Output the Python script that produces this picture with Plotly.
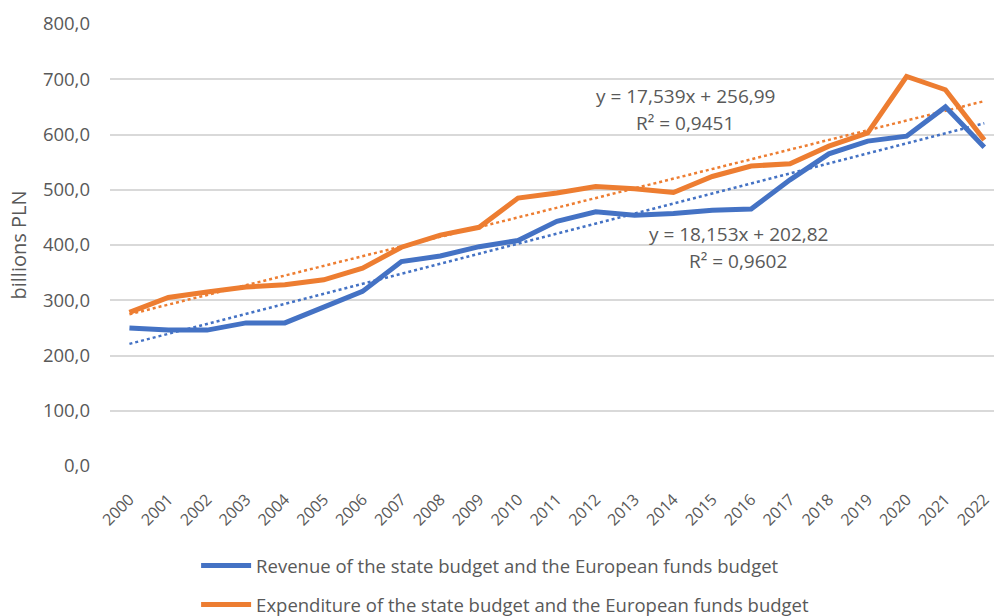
import plotly.graph_objects as go

years = [str(y) for y in range(2000, 2023)]
revenue = [250, 246, 246, 259, 259, 288, 316, 370, 380, 397, 408, 443, 460,
           454, 457, 463, 465, 518, 565, 588, 597, 650, 577]
expenditure = [278, 305, 315, 324, 328, 337, 358, 396, 418, 432, 485, 494, 506,
               502, 495, 524, 543, 547, 579, 603, 705, 681, 590]
# linear trend coefficients (slope, intercept) as printed on the chart
rev_trend = [18.153, 202.82]
exp_trend = [17.539, 256.99]
y_ticks = [0, 100, 200, 300, 400, 500, 600, 700, 800]
y_ticktext = ["0,0", "100,0", "200,0", "300,0", "400,0", "500,0", "600,0", "700,0", "800,0"]

BLUE = "#4472C4"
ORANGE = "#ED7D31"
GREY = "#595959"
FONT = "Open Sans"

idx = list(range(1, len(years) + 1))
rev_fit = [rev_trend[0] * i + rev_trend[1] for i in idx]
exp_fit = [exp_trend[0] * i + exp_trend[1] for i in idx]

fig = go.Figure()
fig.add_trace(go.Scatter(x=years, y=rev_fit, mode="lines",
                         line=dict(color=BLUE, width=2.5, dash="dot"),
                         showlegend=False, hoverinfo="skip"))
fig.add_trace(go.Scatter(x=years, y=exp_fit, mode="lines",
                         line=dict(color=ORANGE, width=2.5, dash="dot"),
                         showlegend=False, hoverinfo="skip"))
fig.add_trace(go.Scatter(x=years, y=revenue, mode="lines",
                         line=dict(color=BLUE, width=5),
                         name="Revenue of the state budget and the European funds budget",
                         legendgroup="a", legendrank=1))
fig.add_trace(go.Scatter(x=years, y=expenditure, mode="lines",
                         line=dict(color=ORANGE, width=5),
                         name="Expenditure of the state budget and the European funds budget",
                         legendgroup="b", legendrank=2))

ann_font = dict(family=FONT, size=19, color=GREY)
fig.add_annotation(x=14.31, y=670, xref="x", yref="y", text="y = 17,539x + 256,99",
                   showarrow=False, font=ann_font)
fig.add_annotation(x=14.31, y=621, xref="x", yref="y", text="R² = 0,9451",
                   showarrow=False, font=ann_font)
fig.add_annotation(x=15.67, y=420, xref="x", yref="y", text="y = 18,153x + 202,82",
                   showarrow=False, font=ann_font)
fig.add_annotation(x=15.67, y=371, xref="x", yref="y", text="R² = 0,9602",
                   showarrow=False, font=ann_font)

fig.update_layout(
    width=994, height=616,
    margin=dict(l=110, r=0, t=24, b=150),
    paper_bgcolor="white", plot_bgcolor="white",
    font=dict(family=FONT, color=GREY, size=18),
    xaxis=dict(type="category", range=[-0.5, 22.25], tickangle=-45,
               showgrid=False, showline=False, ticks="", automargin=False,
               ticklabelstandoff=20,
               tickfont=dict(size=16, color=GREY)),
    yaxis=dict(range=[0, 800], tickvals=y_ticks, ticktext=y_ticktext,
               showgrid=True, gridcolor="#D9D9D9", gridwidth=1.5,
               zeroline=False, showline=False, ticks="", automargin=False,
               ticklabelstandoff=19,
               tickfont=dict(size=18.5, color=GREY),
               title=dict(text="billions PLN", font=dict(size=20, color=GREY), standoff=10)),
    legend=dict(x=0.0974, y=0.112, xref="paper", yref="container",
                xanchor="left", yanchor="top",
                orientation="v", tracegroupgap=12, itemwidth=50,
                font=dict(size=18.5, color=GREY)),
    showlegend=True,
)

fig.write_html("out.html", config={"displayModeBar": False},
               post_script="document.body.style.margin='0';document.body.style.padding='0';")
